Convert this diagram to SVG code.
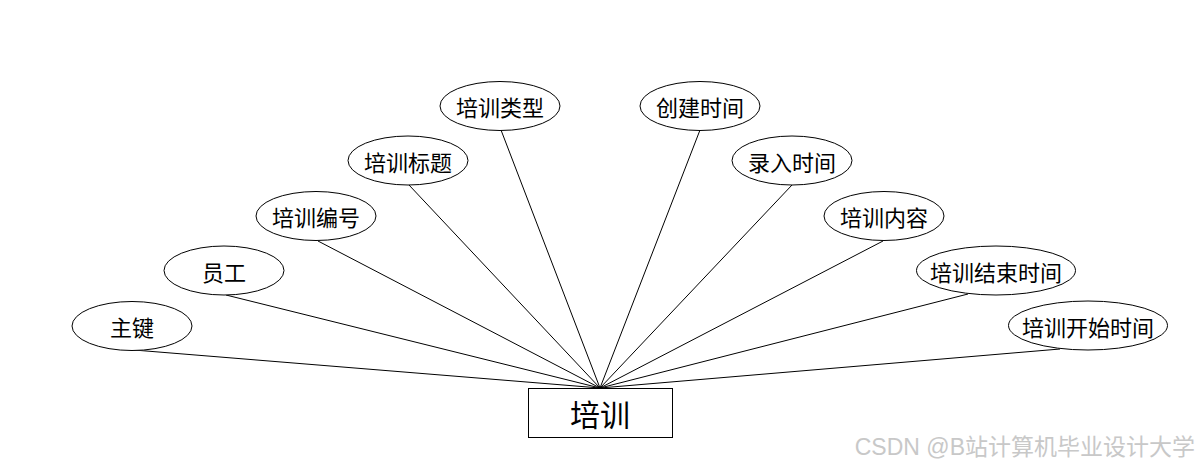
<svg xmlns="http://www.w3.org/2000/svg" width="1200" height="468" viewBox="0 0 1200 468">
<style>
.e{fill:#fff;stroke:#000;stroke-width:1}
.t{font-family:"Noto Sans CJK SC","Liberation Sans",sans-serif;font-size:22px;fill:#000;text-anchor:middle;dominant-baseline:central}
.c line{stroke:#000;stroke-width:1}
</style>
<rect width="1200" height="468" fill="#fff"/>
<g class="c" id="connectors">
<line x1="600" y1="388" x2="134" y2="350"/>
<line x1="600" y1="388" x2="226" y2="295"/>
<line x1="600" y1="388" x2="318" y2="241"/>
<line x1="600" y1="388" x2="409" y2="185"/>
<line x1="600" y1="388" x2="501" y2="130"/>
<line x1="600" y1="388" x2="700" y2="130"/>
<line x1="600" y1="388" x2="792" y2="185"/>
<line x1="600" y1="388" x2="883" y2="241"/>
<line x1="600" y1="388" x2="968" y2="294"/>
<line x1="600" y1="388" x2="1060" y2="349"/>
</g>
<g id="n1"><ellipse class="e" cx="132" cy="326" rx="60" ry="24.5"/><text class="t" x="132" y="326">主键</text></g>
<g id="n2"><ellipse class="e" cx="224" cy="270.5" rx="60" ry="24.5"/><text class="t" x="224" y="270.5">员工</text></g>
<g id="n3"><ellipse class="e" cx="316" cy="216" rx="60" ry="24.5"/><text class="t" x="316" y="216">培训编号</text></g>
<g id="n4"><ellipse class="e" cx="408" cy="160.5" rx="60" ry="24.5"/><text class="t" x="408" y="160.5">培训标题</text></g>
<g id="n5"><ellipse class="e" cx="500" cy="106" rx="60" ry="24.5"/><text class="t" x="500" y="106">培训类型</text></g>
<g id="n6"><ellipse class="e" cx="700" cy="106" rx="60" ry="24.5"/><text class="t" x="700" y="106">创建时间</text></g>
<g id="n7"><ellipse class="e" cx="792" cy="160.5" rx="60" ry="24.5"/><text class="t" x="792" y="160.5">录入时间</text></g>
<g id="n8"><ellipse class="e" cx="884" cy="216" rx="60" ry="24.5"/><text class="t" x="884" y="216">培训内容</text></g>
<g id="n9"><ellipse class="e" cx="996" cy="270.5" rx="79.5" ry="24.5"/><text class="t" x="996" y="270.5">培训结束时间</text></g>
<g id="n10"><ellipse class="e" cx="1088" cy="325.5" rx="79.5" ry="24.5"/><text class="t" x="1088" y="325.5">培训开始时间</text></g>
<g id="main"><rect x="528.5" y="388.5" width="144" height="49" fill="#fff" stroke="#000" stroke-width="1"/><text class="t" x="600" y="413" style="font-size:30px">培训</text></g>
<text x="1195" y="447" style="font-family:'Liberation Sans','Noto Sans CJK SC',sans-serif;font-size:23px;fill:#c8c8c8;text-anchor:end;dominant-baseline:central">CSDN @B站计算机毕业设计大学</text>
</svg>
